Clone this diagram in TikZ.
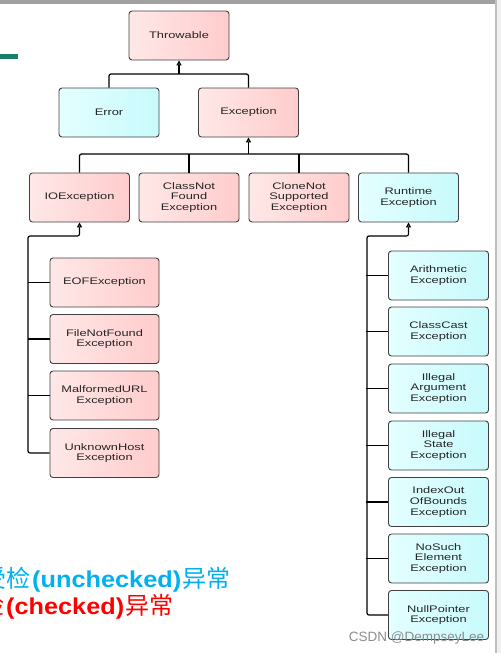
\documentclass[tikz,border=0pt]{standalone}
\usepackage{fontspec}
\usetikzlibrary{arrows.meta}
\newfontfamily\boxfont[FakeStretch=1.35]{Liberation Sans}
\newfontfamily\notefont{Liberation Sans}
\newfontfamily\markfont{Liberation Sans}
\newfontfamily\cjkfont{Noto Sans CJK SC}
\definecolor{pinkL}{RGB}{255,232,232}
\definecolor{pinkR}{RGB}{255,204,204}
\definecolor{cyanL}{RGB}{228,255,255}
\definecolor{cyanR}{RGB}{200,250,252}
\definecolor{notered}{RGB}{255,0,0}
\definecolor{noteblue}{RGB}{0,176,240}
\definecolor{slidegreen}{RGB}{22,128,108}

\begin{document}
\begin{tikzpicture}[x=1pt,y=-1pt,line width=1.2pt,
classnode/.style={rectangle,rounded corners=3pt,draw=black!75,line width=0.9pt,minimum width=100pt,minimum height=49pt,align=center,text=black!85,font=\boxfont\fontsize{9.5}{10.7}\selectfont},
  checked/.style={left color=pinkL,right color=pinkR},
  unchecked/.style={left color=cyanL,right color=cyanR},
  wide/.style={minimum width=109pt},
  inh/.style={-{Triangle[open,length=5pt,width=5pt]}},
  cjknote/.style={anchor=base east,inner sep=0pt,font=\cjkfont\fontsize{24}{24}\selectfont},
  latinnote/.style={anchor=base east,inner sep=0pt,font=\notefont\fontsize{23}{24}\selectfont\bfseries}]
  \useasboundingbox (0,0) rectangle (501,653);
  \fill[black!37] (0,0) rectangle (495,3.5);
  \fill[black!25] (495,0) rectangle (497,653);
  \fill[black!6] (497,0) rectangle (501,653);
  \fill[slidegreen] (0,54) rectangle (18,58.5);
  \path

(179,35.5) node [classnode,checked] (thr) {Throwable}

(109,112.5) node [classnode,unchecked] (err) {Error}
(248.5,112.5) node [classnode,checked] (exc) {Exception}

(79.5,197.5) node [classnode,checked] (ioe) {IOException}
(189,197.5) node [classnode,checked] (cnf) {ClassNot\\Found\\Exception}
(299,197.5) node [classnode,checked] (cns) {CloneNot\\Supported\\Exception}
(408.5,197.5) node [classnode,unchecked] (rte) {Runtime\\Exception}

(104.5,282.5) node [classnode,checked,wide] (eof) {EOFException}
(104.5,339) node [classnode,checked,wide] (fnf) {FileNotFound\\Exception}
(104.5,395.5) node [classnode,checked,wide] (mfu) {MalformedURL\\Exception}
(104.5,453) node [classnode,checked,wide] (uhe) {UnknownHost\\Exception}

(438.5,275.5) node [classnode,unchecked] (ari) {Arithmetic\\Exception}
(438.5,331.5) node [classnode,unchecked] (cce) {ClassCast\\Exception}
(438.5,388.5) node [classnode,unchecked] (iae) {Illegal\\Argument\\Exception}
(438.5,445.5) node [classnode,unchecked] (ise) {Illegal\\State\\Exception}
(438.5,502) node [classnode,unchecked] (ioob) {IndexOut\\OfBounds\\Exception}
(438.5,558.5) node [classnode,unchecked] (nse) {NoSuch\\Element\\Exception}
(438.5,615) node [classnode,unchecked] (npe) {NullPointer\\Exception}
  ;
  \coordinate (thrbus) at (179,74);
  \coordinate (excbus) at (248.5,154);
  \draw[rounded corners=2pt] (err.north) |- (thrbus) -| (exc.north);
  \draw[inh] (thrbus) -- (thr.south);
  \draw[rounded corners=2pt] (ioe.north) |- (excbus) -| (rte.north);
  \draw (cnf.north) -- (cnf.north |- excbus);
  \draw (cns.north) -- (cns.north |- excbus);
  \draw[inh] (excbus) -- (exc.south);
  \draw[inh,rounded corners=2pt] (uhe.west) -| (28,236) -| (ioe.south);
  \draw[inh,rounded corners=2pt] (npe.west) -| (367,236) -| (rte.south);
  \foreach \c in {eof,fnf,mfu,ari,cce,iae,ise,ioob,nse}
    \draw (\c.west) -- ++(-22,0);

  \node[cjknote,text=noteblue] (untail) at (231,587) {异常};
  \node[latinnote,text=noteblue] (unword) at (untail.base west) {\resizebox{149pt}{\height}{(unchecked)}};
  \node[cjknote,text=noteblue] (unhead) at (unword.base west) {受检};
  \node[cjknote,text=notered] (chtail) at (174,614) {异常};
  \node[latinnote,text=notered] (chword) at (chtail.base west) {\resizebox{118pt}{\height}{(checked)}};
  \node[cjknote,text=notered] (chhead) at (chword.base west) {检};
  \node[anchor=base,inner sep=0pt,text=black!45,font=\markfont\fontsize{13.5}{14}\selectfont] (watermark) at (416.5,641) {CSDN @DempseyLee};
\end{tikzpicture}
\end{document}
